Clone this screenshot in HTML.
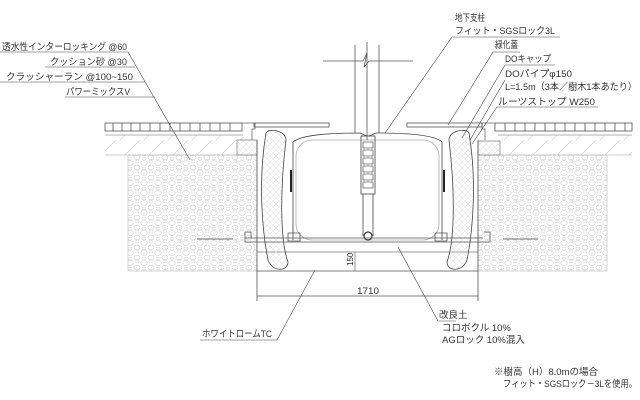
<!DOCTYPE html>
<html><head><meta charset="utf-8"><style>
html,body{margin:0;padding:0;background:#fff;}
svg{display:block;}
text{font-family:"Liberation Sans","Noto Sans CJK JP",sans-serif;fill:#333;}
</style></head><body>
<svg width="640" height="400" viewBox="0 0 640 400" xmlns="http://www.w3.org/2000/svg">
<defs>
<pattern id="cob" width="14" height="10" patternUnits="userSpaceOnUse">
<ellipse cx="4" cy="3" rx="3.2" ry="2.4" fill="none" stroke="#ccc" stroke-width="0.6"/>
<ellipse cx="11" cy="7.5" rx="3" ry="2.3" fill="none" stroke="#ccc" stroke-width="0.6"/>
<ellipse cx="11" cy="1.5" rx="2" ry="1.4" fill="none" stroke="#d4d4d4" stroke-width="0.5"/>
<ellipse cx="4" cy="8.5" rx="2" ry="1.4" fill="none" stroke="#d4d4d4" stroke-width="0.5"/>
</pattern>
<pattern id="hat" width="24" height="20" patternUnits="userSpaceOnUse">
<line x1="0" y1="20" x2="20" y2="0" stroke="#ccc" stroke-width="0.6"/>
</pattern>
<pattern id="xh" width="6" height="6" patternUnits="userSpaceOnUse">
<path d="M0 6L6 0M0 0L6 6" stroke="#ddd" stroke-width="0.5"/>
</pattern>
</defs>
<g stroke="#555" fill="none" stroke-width="0.8">
<rect x="128" y="155" width="129" height="116" fill="url(#cob)" stroke="#ccc"/>
<rect x="105" y="135" width="138" height="20" fill="url(#hat)" stroke="none"/>
<line x1="105" y1="135" x2="243" y2="135" stroke="#999"/>
<line x1="105" y1="155" x2="257" y2="155" stroke="#bbb"/>
<rect x="105" y="123" width="137" height="8"/>
<path d="M113 123v8M122 123v8M131 123v8M140 123v8M150 123v8M160 123v8M170 123v8M180 123v8M190 123v8M200 123v8M210 123v8M220 123v8M230 123v8"/>
<rect x="237" y="140" width="20" height="15" fill="url(#xh)" stroke="#888"/>
<path d="M242 123h13v6h-3v11" stroke="#666"/>
<rect x="478" y="155" width="129" height="116" fill="url(#cob)" stroke="#ccc"/>
<rect x="498" y="135" width="134" height="20" fill="url(#hat)" stroke="none"/>
<line x1="498" y1="135" x2="632" y2="135" stroke="#999"/>
<line x1="478" y1="155" x2="632" y2="155" stroke="#bbb"/>
<rect x="495" y="123" width="137" height="8"/>
<path d="M505 123v8M515 123v8M525 123v8M535 123v8M545 123v8M555 123v8M565 123v8M575 123v8M585 123v8M595 123v8M605 123v8M615 123v8M625 123v8"/>
<rect x="478" y="141" width="22" height="14" fill="url(#xh)" stroke="#888"/>
<path d="M495 123h-13v6h3v11" stroke="#666"/>
<path d="M257 140V271H478V140" stroke="#555"/>
<line x1="257" y1="252" x2="478" y2="252" stroke="#777"/>
<line x1="355" y1="252" x2="355" y2="271" stroke="#777"/>
<path d="M266 133 C258 180 262 230 268 260 C272 272 288 272 288 262 C280 240 280 190 286 140 C286 130 268 128 266 133Z" fill="url(#xh)" stroke="#444"/>
<path d="M469 133 C477 180 473 230 467 260 C463 272 447 272 447 262 C455 240 455 190 449 140 C449 130 467 128 469 133Z" fill="url(#xh)" stroke="#444"/>
<rect x="296" y="140" width="143" height="100" rx="16" stroke="#aaa"/>
<path d="M293 142V240M442 142V240" stroke="#444"/>
<path d="M293 142 C300 136 320 133 360 133 C360 133 366 136 368 136 C370 136 376 133 376 133 C416 133 436 136 442 142" stroke="#444"/>
<path d="M291 170v22M444 170v22" stroke="#222" stroke-width="2"/>
<rect x="361" y="136" width="14" height="58" stroke="#444"/>
<path d="M363 142h10v6h-10zM363 150h10v6h-10zM363 158h10v6h-10zM363 166h10v6h-10zM363 174h10v6h-10zM363 182h10v6h-10z" stroke="#666"/>
<path d="M363 194V236M373 194V236" stroke="#444"/>
<circle cx="368" cy="236" r="4" stroke="#333" stroke-width="1.2"/>
<path d="M245 232h6v6M245 232v10h238M245 238h238M484 232h6v10h-7" stroke="#555"/>
<path d="M288 233h12v8h-12zM435 233h12v8h-12z" stroke="#555"/>
<line x1="197" y1="239" x2="233" y2="239" stroke="#444"/>
<line x1="503" y1="239" x2="538" y2="239" stroke="#444"/>
<rect x="254" y="123" width="75" height="4" stroke="#555"/>
<rect x="407" y="123" width="75" height="4" stroke="#555"/>
<path d="M355 45V133M379 45V133M367 42V140" stroke="#555"/>
<path d="M323 61h40l4-8 -3 14 5-6h44" stroke="#555"/>
<path d="M257 271v30M478 271v30M257 296h221" stroke="#555"/>
</g>
<text x="357" y="294" font-size="9.5" textLength="22" lengthAdjust="spacingAndGlyphs">1710</text>
<text transform="translate(353,266) rotate(-90)" font-size="8">150</text>
<g stroke="#444" stroke-width="0.6" fill="none">
<path d="M0 52H128L190 160"/>
<path d="M45 67H135"/>
<path d="M0 82H145"/>
<path d="M65 97H155"/>
<path d="M452 37H560M452 37L385 133"/>
<path d="M493 52H520M493 52L448 125"/>
<path d="M505 65H555M505 65L462 138"/>
<path d="M505 80L470 140"/>
<path d="M497 107H598M497 107L472 144"/>
<path d="M200 340H277L315 270"/>
<path d="M438 321H456M438 321L398 247"/>
</g>
<g font-size="9.5">
<text x="2" y="50" textLength="125" lengthAdjust="spacingAndGlyphs">透水性インターロッキング @60</text>
<text x="50" y="65" textLength="77" lengthAdjust="spacingAndGlyphs">クッション砂 @30</text>
<text x="6" y="80" textLength="127" lengthAdjust="spacingAndGlyphs">クラッシャーラン @100~150</text>
<text x="66" y="95" textLength="64" lengthAdjust="spacingAndGlyphs">パワーミックスV</text>
<text x="455" y="21" textLength="30" lengthAdjust="spacingAndGlyphs">地下支柱</text>
<text x="455" y="34" textLength="100" lengthAdjust="spacingAndGlyphs">フィット・SGSロック3L</text>
<text x="495" y="48" textLength="23" lengthAdjust="spacingAndGlyphs">緑化蓋</text>
<text x="505" y="62" textLength="46" lengthAdjust="spacingAndGlyphs">DOキャップ</text>
<text x="505" y="77" textLength="67" lengthAdjust="spacingAndGlyphs">DOパイプφ150</text>
<text x="505" y="90" textLength="132" lengthAdjust="spacingAndGlyphs">L=1.5m（3本／樹木1本あたり）</text>
<text x="498" y="105" textLength="97" lengthAdjust="spacingAndGlyphs">ルーツストップ W250</text>
<text x="202" y="337" textLength="70" lengthAdjust="spacingAndGlyphs">ホワイトロームTC</text>
<text x="439" y="318">改良土</text>
<text x="442" y="331">コロボクル 10%</text>
<text x="442" y="343">AGロック 10%混入</text>
<text x="494" y="375">※樹高（H）8.0mの場合</text>
<text x="503" y="387" textLength="134" lengthAdjust="spacingAndGlyphs">フィット・SGSロック－3Lを使用。</text>
</g>
</svg>
</body></html>
